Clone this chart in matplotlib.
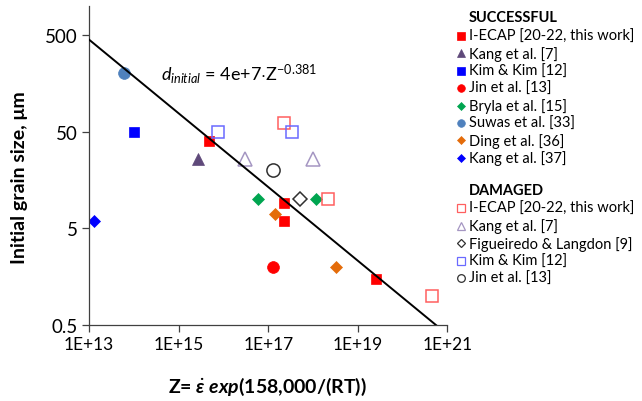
import numpy as np
import matplotlib
matplotlib.use('Agg')
import matplotlib.pyplot as plt
from matplotlib.lines import Line2D
from matplotlib.ticker import FixedLocator, NullLocator

plt.rcParams['font.family'] = ['Lato', 'DejaVu Sans']
plt.rcParams['mathtext.fontset'] = 'custom'
plt.rcParams['mathtext.rm'] = 'Lato'
plt.rcParams['mathtext.it'] = 'Lato:italic'
plt.rcParams['mathtext.bf'] = 'Lato:bold'
plt.rcParams['mathtext.bfit'] = 'Lato:italic:bold'

# successful processing: Zener-Hollomon parameter vs. initial grain size (um)
ok_iecap_z = [4.8e15, 2.2e17, 2.2e17, 2.6e19]
ok_iecap_d = [40, 9.2, 6.0, 1.5]
ok_kang7_z = [2.75e15]
ok_kang7_d = [26]
ok_kim_z = [9.8e13]
ok_kim_d = [49]
ok_jin_z = [1.3e17]
ok_jin_d = [2.0]
ok_bryla_z = [6.0e16, 1.15e18]
ok_bryla_d = [10, 10]
ok_suwas_z = [6.0e13]
ok_suwas_d = [200]
ok_ding_z = [1.4e17, 3.2e18]
ok_ding_d = [7.1, 2.0]
ok_kang37_z = [1.3e13]
ok_kang37_d = [6.0]

# damaged samples
bad_iecap_z = [2.2e17, 2.1e18, 4.5e20]
bad_iecap_d = [61, 10, 1.0]
bad_kang7_z = [3.0e16, 9.8e17]
bad_kang7_d = [26, 26]
bad_fig_z = [5.2e17]
bad_fig_d = [10]
bad_kim_z = [7.6e15, 3.4e17]
bad_kim_d = [49, 49]
bad_jin_z = [1.3e17]
bad_jin_d = [20]

# fitted boundary d = A * Z^n
fit_a = 4e7
fit_n = -0.381

x_ticks = [1e13, 1e15, 1e17, 1e19, 1e21]
x_ticklabels = ['1E+13', '1E+15', '1E+17', '1E+19', '1E+21']
y_ticks = [0.5, 5, 50, 500]
y_ticklabels = ['0.5', '5', '50', '500']

successful = [
    ('I-ECAP [20-22, this work]', ok_iecap_z, ok_iecap_d, 's', '#ff0000', True),
    ('Kang et al. [7]', ok_kang7_z, ok_kang7_d, '^', '#5f497a', True),
    ('Kim & Kim [12]', ok_kim_z, ok_kim_d, 's', '#0000ff', True),
    ('Jin et al. [13]', ok_jin_z, ok_jin_d, 'o', '#ff0000', True),
    ('Bryla et al. [15]', ok_bryla_z, ok_bryla_d, 'D', '#00a550', True),
    ('Suwas et al. [33]', ok_suwas_z, ok_suwas_d, 'o', '#4f81bd', True),
    ('Ding et al. [36]', ok_ding_z, ok_ding_d, 'D', '#e46c0a', True),
    ('Kang et al. [37]', ok_kang37_z, ok_kang37_d, 'D', '#0000ff', True),
]
damaged = [
    ('I-ECAP [20-22, this work]', bad_iecap_z, bad_iecap_d, 's', '#ff5f5f', False),
    ('Kang et al. [7]', bad_kang7_z, bad_kang7_d, '^', '#a596c2', False),
    ('Figueiredo & Langdon [9]', bad_fig_z, bad_fig_d, 'D', '#303030', False),
    ('Kim & Kim [12]', bad_kim_z, bad_kim_d, 's', '#6a6aff', False),
    ('Jin et al. [13]', bad_jin_z, bad_jin_d, 'o', '#303030', False),
]

# marker sizes for plot and legend
plot_ms = {'s': 7.5, '^': 8.5, 'o': 8.5, 'D': 6.5}
leg_ms = {'s': 5.2, '^': 5.5, 'o': 5.5, 'D': 4.5}

fig = plt.figure(figsize=(6.42, 4.02), dpi=100, facecolor='w')
ax = fig.add_axes([0.139, 0.189, 0.558, 0.794])

for name, zs, ds, mk, col, filled in successful + damaged:
    if filled:
        ax.plot(zs, ds, linestyle='none', marker=mk, ms=plot_ms[mk],
                mfc=col, mec=col, mew=0.5, zorder=2)
    else:
        ax.plot(zs, ds, linestyle='none', marker=mk, ms=plot_ms[mk] + 1,
                mfc='none', mec=col, mew=1.1, zorder=2)

z_line = np.logspace(13, 21, 200)
ax.plot(z_line, fit_a * z_line ** fit_n, color='black', lw=1.4, zorder=3)

ax.set_xscale('log')
ax.set_yscale('log')
ax.set_xlim(1e13, 1e21)
ax.set_ylim(0.5, 1000)
ax.xaxis.set_major_locator(FixedLocator(x_ticks))
ax.xaxis.set_minor_locator(NullLocator())
ax.yaxis.set_major_locator(FixedLocator(y_ticks))
ax.yaxis.set_minor_locator(NullLocator())
ax.set_xticklabels(x_ticklabels, fontsize=12.5)
ax.set_yticklabels(y_ticklabels, fontsize=13.5)
ax.tick_params(direction='out', length=5, width=0.9, color='#404040', pad=3)
ax.spines['top'].set_visible(False)
ax.spines['right'].set_visible(False)
for s in ['left', 'bottom']:
    ax.spines[s].set_color('#404040')
    ax.spines[s].set_linewidth(0.9)

ax.set_ylabel('Initial grain size, μm', fontsize=14, fontweight='bold')
ax.yaxis.set_label_coords(-0.17, 0.464)
ax.set_xlabel(r'Z= $\dot{\mathbfit{\varepsilon}}$ $\mathbfit{exp}$(158,000/(RT))',
              fontsize=14, fontweight='bold')
ax.xaxis.set_label_coords(0.498, -0.155)

ax.text(0.2, 0.79, r'$d_{initial}$ = 4e+7$\cdot$Z$^{\mathrm{-0.381}}$',
        transform=ax.transAxes, fontsize=13, ha='left', va='center')

# legend drawn by hand in figure pixel coordinates
W, H = 642.0, 402.0
mk_x = 460.5 / W
tx_x = 468.5 / W


def legend_block(title, y_title, y0, entries):
    fig.text(tx_x, 1 - y_title / H, title, fontsize=10.5, fontweight='bold',
             ha='left', va='center')
    for i, (name, zs, ds, mk, col, filled) in enumerate(entries):
        y = 1 - (y0 + i * 17.4) / H
        fig.add_artist(Line2D([mk_x], [y], transform=fig.transFigure,
                              linestyle='none', marker=mk, ms=leg_ms[mk],
                              mfc=col if filled else 'none', mec=col,
                              mew=0.5 if filled else 0.9))
        fig.text(tx_x, y, name, fontsize=10.5, ha='left', va='center')


legend_block('SUCCESSFUL', 18.5, 37.0, successful)
legend_block('DAMAGED', 191.5, 209.3, damaged)

fig.savefig('out.png', dpi=100, facecolor='w')
